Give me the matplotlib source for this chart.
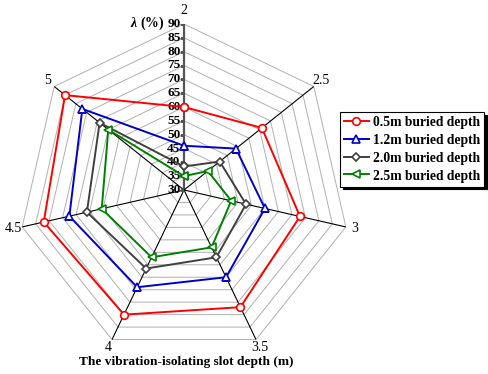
import numpy as np
import matplotlib
matplotlib.use("Agg")
from matplotlib import pyplot as plt
from matplotlib.markers import TICKLEFT

plt.rcParams['font.family'] = ['Liberation Serif', 'DejaVu Serif']
plt.rcParams['mathtext.fontset'] = 'custom'
plt.rcParams['mathtext.rm'] = 'Liberation Serif'
plt.rcParams['mathtext.it'] = 'Liberation Serif:italic:bold'

# slot depth categories (m), clockwise from top
depths = ['2', '2.5', '3', '3.5', '4', '4.5', '5']

# lambda (%) for each buried depth
d05 = [60, 66, 73, 77, 80, 82, 85]
d12 = [46, 54, 60, 65, 69, 72.5, 77]
d20 = [38.5, 46.5, 53, 57, 61.5, 66, 69]
d25 = [35, 41, 47.5, 53, 57, 60.5, 65]

series = [
    (d05, '0.5m buried depth', '#ff0000', 'o'),
    (d12, '1.2m buried depth', '#0000c8', '^'),
    (d20, '2.0m buried depth', '#404040', 'D'),
    (d25, '2.5m buried depth', '#008000', '<'),
]

rticks = np.arange(30, 91, 5)

n = len(depths)
ang = np.linspace(0, 2*np.pi, n, endpoint=False)
ang_c = np.append(ang, ang[0])

fig = plt.figure(figsize=(4.88, 3.74), dpi=100)
ax = fig.add_axes([18/488, 18/374, 332/488, 332/374], projection='polar')
ax.set_theta_zero_location('N')
ax.set_theta_direction(-1)
ax.set_ylim(30, 90)
ax.grid(False)
ax.spines['polar'].set_visible(False)
ax.set_xticks([])
ax.set_yticks([])
ax.patch.set_alpha(0)

# polygon grid
for r in rticks[1:]:
    ax.plot(ang_c, [r]*(n+1), color='#b0b0b0', lw=0.7, zorder=1)

# spokes
for i, a in enumerate(ang):
    if i == 0:
        ax.plot([a, a], [30, 90], color='#555555', lw=1.6, zorder=2)
    else:
        ax.plot([a, a], [30, 90], color='black', lw=0.8, zorder=2)

# radial tick marks and labels along the top axis
ax.plot([0]*len(rticks), rticks, linestyle='none', marker=TICKLEFT,
        markersize=3, color='#555555', markeredgewidth=1, zorder=3)
for r in rticks:
    ax.annotate(str(r), xy=(0, r), xytext=(-2.5, 0), textcoords='offset points',
                ha='right', va='center', fontsize=9.5, fontweight='bold')

# category labels
for a, lab in zip(ang, depths):
    rr = 95 if lab == '2' else 93.3
    ax.text(a, rr, lab, ha='center', va='center', fontsize=10)

for vals, lab, col, mk in series:
    ax.plot(ang_c, vals + vals[:1], color=col, lw=1.4, marker=mk,
            markersize=5.5 if mk != 'D' else 4.5, markerfacecolor='white',
            markeredgecolor=col, markeredgewidth=1.2, label=lab, zorder=5)

fig.text(147/488, 1 - 23/374, r'$\lambda$ (%)', ha='center', va='center',
         fontsize=10, fontweight='bold')
fig.text(186/488, 1 - 362/374, 'The vibration-isolating slot depth (m)',
         ha='center', va='center', fontsize=9.6, fontweight='bold')

leg = fig.legend(loc='upper left', bbox_to_anchor=(340/488, 1 - 112/374),
                 prop={'weight': 'bold', 'size': 9.8}, fancybox=False,
                 shadow={'color': 'black', 'alpha': 1}, edgecolor='black',
                 handlelength=1.8, handletextpad=0.3, borderpad=0.3,
                 labelspacing=0.32, borderaxespad=0, handleheight=0.9)
leg.get_frame().set_linewidth(0.8)

fig.savefig('out.png', dpi=100)
